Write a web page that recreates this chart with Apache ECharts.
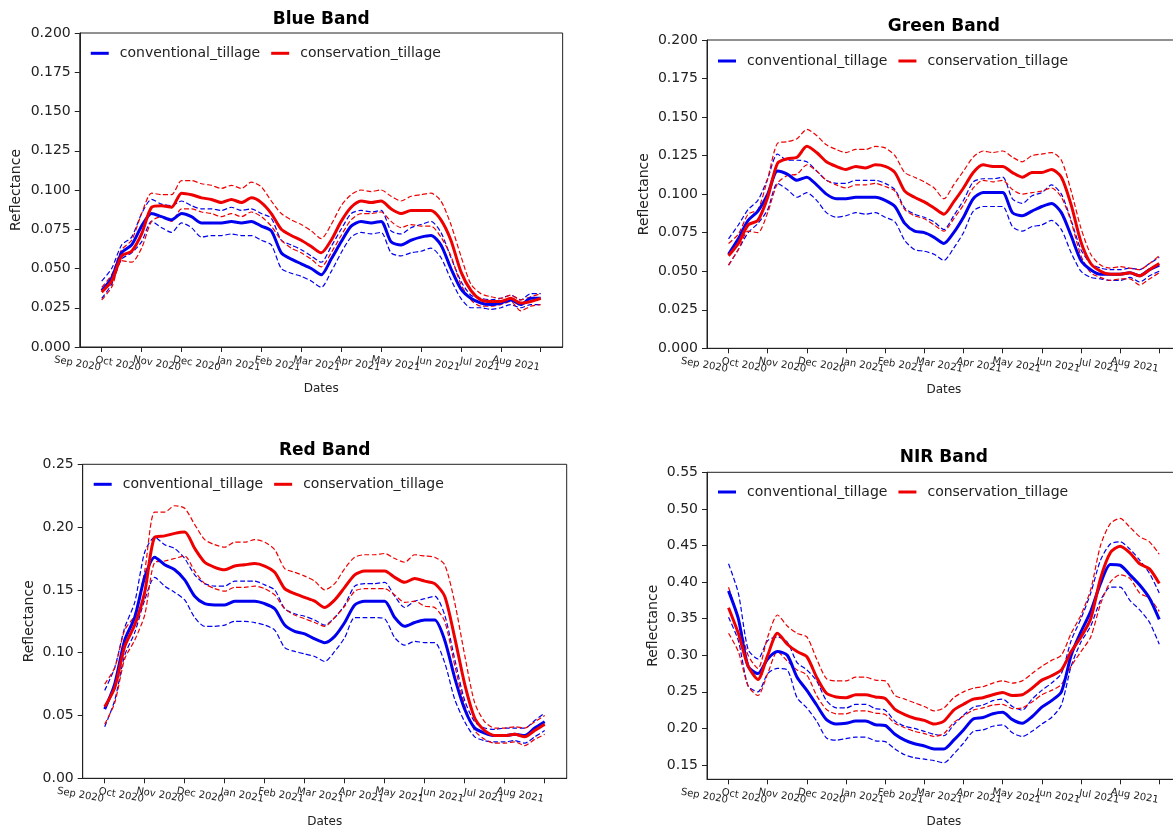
<!DOCTYPE html>
<html><head><meta charset="utf-8">
<script src="https://cdn.jsdelivr.net/npm/echarts@6/dist/echarts.min.js"></script>
<style>html,body{margin:0;padding:0;background:#fff}#c{width:1173px;height:828px}</style>
</head><body><div id="c"></div><script>
// x positions in months since the first tick (Sep 2020 month end)
const months = [0,0.25,0.5,0.75,1,1.25,1.5,1.75,2,2.25,2.5,2.75,3,3.25,3.5,3.75,4,4.25,4.5,4.75,5,5.25,5.5,5.75,6,6.25,6.5,6.75,7,7.25,7.5,7.75,8,8.25,8.5,8.75,9,9.25,9.5,9.75,10,10.25,10.5,10.75,11];
const monthTicks = [0,1,2,3,4,5,6,7,8,9,10,11];
const monthTicksEven = [0,2,4,6,8,10];
const monthTicksOdd = [1,3,5,7,9,11];
const monthLabels = ['Sep 2020','Oct 2020','Nov 2020','Dec 2020','Jan 2021','Feb 2021','Mar 2021','Apr 2021','May 2021','Jun 2021','Jul 2021','Aug 2021'];
const ticks3 = [0,0.025,0.05,0.075,0.1,0.125,0.15,0.175,0.2];
const ticksRed = [0,0.05,0.1,0.15,0.2,0.25];
const ticksNir = [0.15,0.2,0.25,0.3,0.35,0.4,0.45,0.5,0.55];

// Blue band
const blueConvMean = [0.036,0.044,0.060,0.065,0.077,0.085,0.083,0.081,0.085,0.083,0.079,0.079,0.079,0.080,0.079,0.080,0.077,0.074,0.060,0.056,0.053,0.050,0.046,0.056,0.067,0.077,0.080,0.079,0.080,0.067,0.065,0.068,0.070,0.071,0.065,0.050,0.037,0.031,0.028,0.027,0.028,0.030,0.027,0.031,0.031];
const blueConvUp = [0.042,0.050,0.065,0.070,0.085,0.094,0.091,0.090,0.093,0.090,0.088,0.088,0.087,0.089,0.087,0.088,0.085,0.082,0.068,0.065,0.062,0.058,0.054,0.064,0.075,0.085,0.087,0.086,0.087,0.074,0.072,0.076,0.078,0.080,0.073,0.057,0.042,0.033,0.031,0.030,0.031,0.033,0.030,0.034,0.034];
const blueConvLo = [0.031,0.040,0.056,0.060,0.067,0.080,0.076,0.073,0.079,0.076,0.070,0.071,0.071,0.072,0.071,0.071,0.068,0.065,0.050,0.047,0.045,0.042,0.038,0.048,0.060,0.070,0.073,0.072,0.073,0.060,0.058,0.060,0.061,0.063,0.057,0.043,0.031,0.025,0.025,0.024,0.025,0.027,0.025,0.027,0.027];
const blueConsMean = [0.035,0.042,0.058,0.061,0.072,0.089,0.090,0.089,0.098,0.097,0.095,0.094,0.092,0.094,0.092,0.095,0.092,0.085,0.075,0.071,0.068,0.064,0.060,0.068,0.080,0.089,0.093,0.092,0.093,0.088,0.085,0.087,0.087,0.087,0.081,0.068,0.048,0.036,0.030,0.029,0.029,0.031,0.028,0.029,0.031];
const blueConsUp = [0.038,0.046,0.062,0.068,0.085,0.098,0.097,0.097,0.106,0.106,0.104,0.103,0.101,0.103,0.101,0.105,0.102,0.093,0.085,0.081,0.078,0.074,0.069,0.078,0.090,0.097,0.100,0.099,0.100,0.096,0.093,0.096,0.097,0.098,0.093,0.078,0.058,0.040,0.034,0.032,0.031,0.033,0.030,0.032,0.034];
const blueConsLo = [0.030,0.038,0.055,0.054,0.063,0.080,0.083,0.080,0.088,0.088,0.086,0.085,0.083,0.085,0.083,0.086,0.083,0.077,0.068,0.063,0.060,0.056,0.051,0.060,0.071,0.081,0.085,0.085,0.086,0.080,0.076,0.078,0.077,0.077,0.070,0.058,0.040,0.030,0.026,0.026,0.027,0.029,0.023,0.026,0.027];

// Green band
const greenConvMean = [0.061,0.071,0.083,0.089,0.100,0.115,0.113,0.109,0.111,0.106,0.100,0.097,0.097,0.098,0.098,0.098,0.096,0.092,0.081,0.076,0.075,0.072,0.068,0.075,0.085,0.097,0.101,0.101,0.101,0.088,0.086,0.089,0.092,0.094,0.088,0.073,0.057,0.051,0.048,0.048,0.048,0.049,0.047,0.051,0.054];
const greenConvUp = [0.071,0.080,0.090,0.096,0.110,0.126,0.122,0.122,0.121,0.115,0.109,0.107,0.107,0.109,0.109,0.109,0.107,0.103,0.091,0.087,0.085,0.082,0.077,0.086,0.096,0.108,0.110,0.110,0.111,0.097,0.094,0.099,0.101,0.106,0.100,0.083,0.064,0.055,0.052,0.051,0.051,0.052,0.051,0.055,0.059];
const greenConvLo = [0.054,0.064,0.075,0.081,0.090,0.107,0.103,0.098,0.101,0.096,0.088,0.085,0.086,0.088,0.087,0.088,0.085,0.082,0.070,0.064,0.063,0.061,0.057,0.065,0.075,0.089,0.092,0.092,0.092,0.079,0.076,0.079,0.080,0.083,0.077,0.062,0.050,0.046,0.045,0.044,0.044,0.046,0.043,0.047,0.050];
const greenConsMean = [0.060,0.068,0.080,0.083,0.098,0.120,0.123,0.124,0.131,0.127,0.121,0.118,0.116,0.118,0.117,0.119,0.118,0.114,0.102,0.098,0.095,0.091,0.087,0.095,0.104,0.114,0.119,0.118,0.118,0.114,0.111,0.114,0.114,0.116,0.111,0.093,0.069,0.055,0.050,0.048,0.048,0.049,0.047,0.051,0.055];
const greenConsUp = [0.068,0.074,0.087,0.090,0.110,0.133,0.134,0.136,0.142,0.138,0.132,0.129,0.127,0.129,0.129,0.131,0.130,0.125,0.114,0.111,0.108,0.104,0.097,0.106,0.115,0.124,0.128,0.127,0.128,0.124,0.121,0.125,0.126,0.127,0.122,0.102,0.078,0.061,0.054,0.052,0.053,0.052,0.051,0.055,0.060];
const greenConsLo = [0.054,0.064,0.076,0.075,0.088,0.107,0.112,0.113,0.119,0.115,0.109,0.106,0.104,0.106,0.106,0.107,0.105,0.102,0.090,0.086,0.084,0.080,0.076,0.084,0.093,0.104,0.109,0.108,0.109,0.103,0.100,0.101,0.102,0.104,0.098,0.082,0.060,0.049,0.046,0.044,0.045,0.045,0.041,0.045,0.049];

// Red band
const redConvMean = [0.055,0.075,0.110,0.128,0.160,0.176,0.170,0.166,0.158,0.145,0.139,0.138,0.138,0.141,0.141,0.141,0.139,0.135,0.122,0.117,0.115,0.111,0.108,0.113,0.124,0.138,0.141,0.141,0.141,0.128,0.121,0.124,0.126,0.126,0.110,0.080,0.055,0.040,0.036,0.034,0.034,0.035,0.034,0.040,0.045];
const redConvUp = [0.070,0.088,0.120,0.140,0.180,0.192,0.186,0.183,0.175,0.162,0.155,0.153,0.153,0.157,0.157,0.157,0.154,0.150,0.135,0.131,0.129,0.126,0.122,0.128,0.138,0.153,0.155,0.155,0.156,0.145,0.136,0.141,0.143,0.145,0.130,0.095,0.062,0.045,0.040,0.039,0.040,0.040,0.040,0.046,0.052];
const redConvLo = [0.041,0.062,0.098,0.116,0.142,0.160,0.153,0.148,0.142,0.128,0.121,0.121,0.122,0.125,0.125,0.124,0.122,0.118,0.104,0.101,0.099,0.097,0.093,0.101,0.112,0.128,0.128,0.128,0.127,0.112,0.106,0.109,0.108,0.108,0.092,0.063,0.045,0.033,0.030,0.029,0.029,0.030,0.028,0.033,0.038];
const redConsMean = [0.057,0.072,0.105,0.122,0.148,0.192,0.193,0.195,0.196,0.183,0.172,0.168,0.166,0.169,0.170,0.171,0.169,0.164,0.151,0.147,0.144,0.141,0.136,0.142,0.152,0.162,0.165,0.165,0.165,0.160,0.156,0.159,0.157,0.155,0.145,0.112,0.075,0.048,0.038,0.034,0.034,0.035,0.033,0.038,0.043];
const redConsUp = [0.075,0.088,0.118,0.130,0.165,0.212,0.212,0.217,0.215,0.202,0.190,0.186,0.184,0.188,0.188,0.190,0.188,0.182,0.167,0.164,0.161,0.157,0.150,0.155,0.167,0.176,0.178,0.178,0.179,0.175,0.172,0.178,0.177,0.176,0.170,0.140,0.098,0.060,0.045,0.040,0.040,0.041,0.040,0.045,0.050];
const redConsLo = [0.043,0.060,0.095,0.110,0.130,0.172,0.173,0.175,0.177,0.165,0.155,0.151,0.149,0.152,0.152,0.153,0.151,0.146,0.135,0.130,0.127,0.124,0.121,0.128,0.137,0.149,0.151,0.151,0.151,0.146,0.140,0.141,0.137,0.136,0.125,0.090,0.058,0.038,0.031,0.028,0.028,0.029,0.026,0.031,0.035];

// NIR band
const nirConvMean = [0.388,0.350,0.285,0.275,0.295,0.305,0.300,0.270,0.252,0.232,0.212,0.206,0.207,0.210,0.210,0.205,0.204,0.192,0.184,0.179,0.176,0.172,0.172,0.184,0.198,0.213,0.215,0.220,0.222,0.212,0.207,0.216,0.229,0.238,0.250,0.300,0.332,0.360,0.398,0.424,0.423,0.410,0.396,0.378,0.349];
const nirConvUp = [0.425,0.385,0.308,0.295,0.320,0.325,0.318,0.290,0.280,0.265,0.238,0.228,0.228,0.233,0.233,0.227,0.225,0.210,0.203,0.200,0.196,0.192,0.190,0.205,0.218,0.229,0.232,0.238,0.240,0.230,0.225,0.240,0.252,0.262,0.275,0.320,0.350,0.385,0.430,0.452,0.455,0.445,0.430,0.412,0.385];
const nirConvLo = [0.352,0.320,0.258,0.250,0.275,0.282,0.280,0.242,0.228,0.210,0.187,0.184,0.186,0.188,0.188,0.183,0.182,0.172,0.164,0.160,0.158,0.156,0.153,0.165,0.180,0.196,0.198,0.203,0.205,0.194,0.189,0.196,0.206,0.215,0.232,0.285,0.318,0.340,0.375,0.393,0.393,0.375,0.362,0.345,0.315];
const nirConsMean = [0.365,0.330,0.285,0.267,0.300,0.330,0.315,0.305,0.298,0.270,0.248,0.243,0.242,0.246,0.246,0.243,0.241,0.226,0.219,0.214,0.211,0.206,0.210,0.225,0.233,0.240,0.242,0.246,0.249,0.245,0.246,0.255,0.266,0.272,0.280,0.305,0.325,0.350,0.405,0.440,0.449,0.440,0.425,0.418,0.398];
const nirConsUp = [0.393,0.350,0.300,0.282,0.325,0.355,0.340,0.330,0.325,0.295,0.268,0.265,0.265,0.270,0.270,0.266,0.265,0.245,0.240,0.235,0.230,0.224,0.228,0.242,0.250,0.255,0.257,0.262,0.265,0.262,0.265,0.275,0.285,0.293,0.300,0.330,0.355,0.390,0.450,0.480,0.487,0.475,0.462,0.455,0.438];
const nirConsLo = [0.330,0.305,0.258,0.245,0.275,0.305,0.292,0.280,0.273,0.245,0.226,0.220,0.220,0.224,0.224,0.221,0.219,0.207,0.201,0.196,0.193,0.189,0.193,0.208,0.217,0.225,0.228,0.232,0.233,0.227,0.228,0.236,0.246,0.252,0.260,0.285,0.305,0.325,0.370,0.400,0.410,0.405,0.385,0.378,0.360];

const FONT = 'DejaVu Sans';
const INK = '#222';
const BLUE = '#0000ee';
const RED = '#ee0000';

const panels = [
  {title:'Blue Band', left:79.75, top:33, width:482.9, height:314, yMin:0, yMax:0.2, yTicks:ticks3, digits:3,
   conv:[blueConvMean, blueConvUp, blueConvLo], cons:[blueConsMean, blueConsUp, blueConsLo],
   titleY:19.3, ylabX:16.6, datesY:389.3, legendY:52.3},
  {title:'Green Band', left:707, top:40, width:473.8, height:308.3, yMin:0, yMax:0.2, yTicks:ticks3, digits:3,
   conv:[greenConvMean, greenConvUp, greenConvLo], cons:[greenConsMean, greenConsUp, greenConsLo],
   titleY:26.7, ylabX:644, datesY:390, legendY:60},
  {title:'Red Band', left:82.7, top:464.3, width:484, height:314, yMin:0, yMax:0.25, yTicks:ticksRed, digits:2,
   conv:[redConvMean, redConvUp, redConvLo], cons:[redConsMean, redConsUp, redConsLo],
   titleY:450.7, ylabX:29, datesY:821.7, legendY:483.3},
  {title:'NIR Band', left:707, top:472.3, width:473.8, height:307, yMin:0.1305, yMax:0.55, yTicks:ticksNir, digits:2,
   conv:[nirConvMean, nirConvUp, nirConvLo], cons:[nirConsMean, nirConsUp, nirConsLo],
   titleY:458, ylabX:653, datesY:821.7, legendY:491}
];

const grid = [], xAxis = [], yAxis = [], series = [], legend = [], graphic = [];
const pairs = arr => months.map((m, j) => [m, arr[j]]);
const xLabelStyle = vals => ({show:true, customValues:vals, formatter:v => monthLabels[Math.round(v)],
  showMinLabel:true, showMaxLabel:true, hideOverlap:false,
  rotate:-10, align:'right', verticalAlign:'top', margin:16, fontSize:10, fontFamily:FONT, color:INK});

panels.forEach((p, i) => {
  grid.push({left:p.left, top:p.top, width:p.width, height:p.height, show:true,
    borderColor:INK, borderWidth:1, backgroundColor:'transparent', containLabel:false, outerBoundsMode:'none'});
  // main x axis: line, all ticks, even-month labels
  xAxis.push({type:'value', gridIndex:i, position:'bottom', offset:0, min:-0.55, max:11.55,
    axisLine:{show:true, onZero:false, lineStyle:{color:INK, width:1}},
    axisTick:{show:true, customValues:monthTicks, length:5, inside:false, lineStyle:{color:INK, width:1}},
    axisLabel:xLabelStyle(monthTicksEven),
    splitLine:{show:false}});
  // companion x axis on the same edge carrying the odd-month labels
  xAxis.push({type:'value', gridIndex:i, position:'bottom', offset:0, min:-0.55, max:11.55,
    axisLine:{show:false, onZero:false}, axisTick:{show:false},
    axisLabel:xLabelStyle(monthTicksOdd),
    splitLine:{show:false}});
  yAxis.push({type:'value', gridIndex:i, min:p.yMin, max:p.yMax,
    axisLine:{show:true, onZero:false, lineStyle:{color:INK, width:1}},
    axisTick:{show:true, customValues:p.yTicks, length:5, inside:false, lineStyle:{color:INK, width:1}},
    axisLabel:{show:true, customValues:p.yTicks, formatter:v => v.toFixed(p.digits),
      showMinLabel:true, showMaxLabel:true, hideOverlap:false,
      margin:9, fontSize:14, fontFamily:FONT, color:INK},
    splitLine:{show:false}});
  const groups = [['conventional_tillage', BLUE, p.conv], ['conservation_tillage', RED, p.cons]];
  groups.forEach(([name, col, arrs]) => {
    [[name + '_upper', arrs[1]], [name + '_lower', arrs[2]]].forEach(([nm, arr]) => {
      series.push({type:'line', name:nm, xAxisIndex:2 * i, yAxisIndex:i, data:pairs(arr),
        showSymbol:false, symbol:'none', smooth:0.25, silent:true, z:2,
        itemStyle:{color:col}, lineStyle:{color:col, width:1.2, type:[5, 2.5]}});
    });
    series.push({type:'line', name:name, xAxisIndex:2 * i, yAxisIndex:i, data:pairs(arrs[0]),
      showSymbol:false, symbol:'none', smooth:0.25, silent:true, z:3,
      itemStyle:{color:col}, lineStyle:{color:col, width:3}});
  });
  legend.push({left:p.left + 11, top:p.legendY - 6, orient:'horizontal', padding:0,
    itemWidth:18, itemHeight:3, itemGap:11, icon:'rect', selectedMode:false,
    data:['conventional_tillage', 'conservation_tillage'],
    textStyle:{fontFamily:FONT, fontSize:14, color:INK, padding:[0,0,0,6]}});
  const cx = p.left + p.width / 2;
  graphic.push({type:'text', x:cx, y:p.titleY, style:{text:p.title, font:'bold 17px "' + FONT + '"',
    fill:'#000', textAlign:'center', textVerticalAlign:'middle'}});
  graphic.push({type:'text', x:cx, y:p.datesY, style:{text:'Dates', font:'12px "' + FONT + '"',
    fill:INK, textAlign:'center', textVerticalAlign:'middle'}});
  graphic.push({type:'text', x:p.ylabX, y:p.top + p.height / 2, rotation:Math.PI / 2,
    style:{text:'Reflectance', font:'14px "' + FONT + '"', fill:INK, textAlign:'center', textVerticalAlign:'middle'}});
});

const chart = echarts.init(document.getElementById('c'), null, {renderer:'canvas'});
chart.setOption({animation:false, backgroundColor:'#fff', grid, xAxis, yAxis, series, legend, graphic,
  tooltip:{show:false}});
</script></body></html>
